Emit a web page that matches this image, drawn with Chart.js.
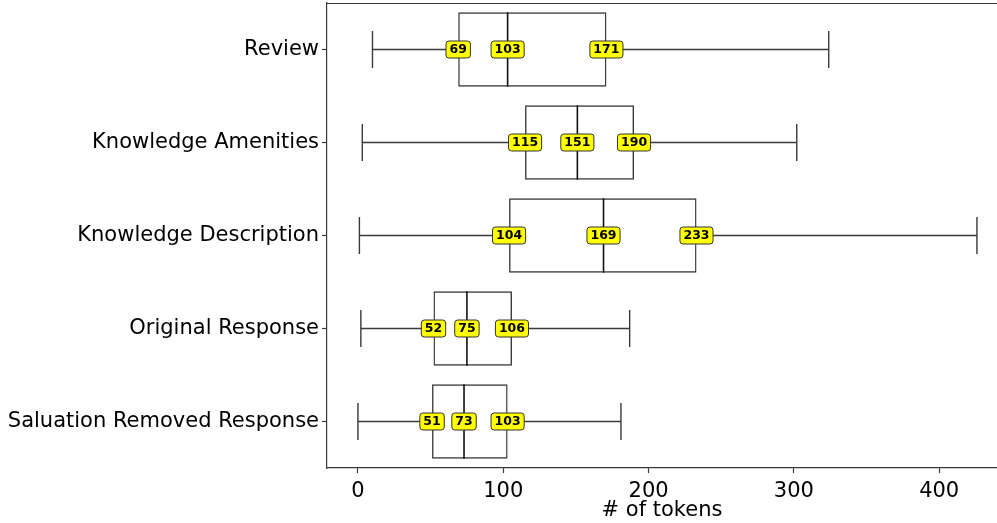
<!DOCTYPE html>
<html>
<head>
<meta charset="utf-8">
<script src="https://cdn.jsdelivr.net/npm/chart.js@4/dist/chart.umd.min.js"></script>
<style>
  html, body { margin: 0; padding: 0; background: #fff; }
  canvas { display: block; }
</style>
</head>
<body>
<canvas id="boxChart" width="997" height="523"></canvas>
<script>
// box plot stats (tokens)
const categories = ["Review", "Knowledge Amenities", "Knowledge Description", "Original Response", "Saluation Removed Response"];
const whiskerLow = [10, 3, 1, 2, 0];
const q1Values = [69, 115, 104, 52, 51];
const medianValues = [103, 151, 169, 75, 73];
const q3Values = [171, 190, 233, 106, 103];
const whiskerHigh = [324, 302, 426, 187, 181];
const xTicks = [0, 100, 200, 300, 400];

const FONT = "'DejaVu Sans', 'Liberation Sans', sans-serif";
const LINE = "#3a3a3a";

// whiskers, caps, medians, labels and the top spine
const boxExtras = {
    id: "boxExtras",
    afterDatasetsDraw(chart) {
        const c = chart.ctx;
        const xs = chart.scales.x;
        const area = chart.chartArea;
        const meta = chart.getDatasetMeta(0);

        c.save();
        // top spine
        c.strokeStyle = LINE;
        c.lineWidth = 1.2;
        c.beginPath();
        c.moveTo(area.left, area.top + 0.5);
        c.lineTo(area.right, area.top + 0.5);
        c.stroke();

        meta.data.forEach((bar, i) => {
            const y = bar.y;
            const half = bar.height / 2;
            const lo = xs.getPixelForValue(whiskerLow[i]);
            const hi = xs.getPixelForValue(whiskerHigh[i]);
            const a = xs.getPixelForValue(q1Values[i]);
            const b = xs.getPixelForValue(q3Values[i]);
            const m = xs.getPixelForValue(medianValues[i]);

            c.strokeStyle = LINE;
            c.lineWidth = 1.4;
            c.beginPath();
            c.moveTo(lo, y); c.lineTo(a, y);
            c.moveTo(b, y); c.lineTo(hi, y);
            c.moveTo(lo, y - half / 2); c.lineTo(lo, y + half / 2);
            c.moveTo(hi, y - half / 2); c.lineTo(hi, y + half / 2);
            c.stroke();

            c.strokeStyle = "#111";
            c.lineWidth = 1.6;
            c.beginPath();
            c.moveTo(m, y - half); c.lineTo(m, y + half);
            c.stroke();

            // yellow value tags
            c.font = "bold 12.5px " + FONT;
            c.textAlign = "center";
            c.textBaseline = "middle";
            [q1Values[i], medianValues[i], q3Values[i]].forEach(v => {
                const px = xs.getPixelForValue(v);
                const txt = String(v);
                const w = c.measureText(txt).width + 7;
                const h = 17;
                c.beginPath();
                c.roundRect(px - w / 2, y - h / 2, w, h, 3);
                c.fillStyle = "#ffff00";
                c.fill();
                c.strokeStyle = "#333";
                c.lineWidth = 1;
                c.stroke();
                c.fillStyle = "#000";
                c.fillText(txt, px, y + 0.5);
            });
        });
        c.restore();
    }
};

const ctx = document.getElementById("boxChart").getContext("2d");
const chart = new Chart(ctx, {
    type: "bar",
    data: {
        labels: categories,
        datasets: [{
            data: q1Values.map((v, i) => [v, q3Values[i]]),
            backgroundColor: "rgba(0,0,0,0)",
            borderColor: LINE,
            borderWidth: 1.4,
            borderSkipped: false,
            categoryPercentage: 0.8,
            barPercentage: 1.0
        }]
    },
    options: {
        indexAxis: "y",
        responsive: false,
        animation: false,
        devicePixelRatio: 1,
        layout: { padding: { top: 3, right: 0, left: 0, bottom: 0 } },
        plugins: {
            legend: { display: false },
            tooltip: { enabled: false }
        },
        scales: {
            x: {
                type: "linear",
                min: -21.3,
                max: 439.8,
                afterBuildTicks: scale => { scale.ticks = xTicks.map(v => ({ value: v })); },
                afterFit: scale => { scale.height = 55; scale.paddingLeft = 0; scale.paddingRight = 0; },
                grid: { drawOnChartArea: false, color: LINE, tickLength: 5, tickWidth: 1.2 },
                border: { color: LINE, width: 1.2 },
                ticks: { color: "#000", font: { family: FONT, size: 21 }, padding: 6, maxRotation: 0 },
                title: { display: true, text: "# of tokens", color: "#000", font: { family: FONT, size: 21 }, padding: { top: 0, bottom: 0 } }
            },
            y: {
                afterFit: scale => { scale.width = 327; scale.paddingTop = 0; scale.paddingBottom = 0; },
                grid: { drawOnChartArea: false, offset: false, color: LINE, tickLength: 5, tickWidth: 1.2 },
                border: { color: LINE, width: 1.2 },
                ticks: { color: "#000", font: { family: FONT, size: 21 }, padding: 3 }
            }
        }
    },
    plugins: [boxExtras]
});
</script>
</body>
</html>
